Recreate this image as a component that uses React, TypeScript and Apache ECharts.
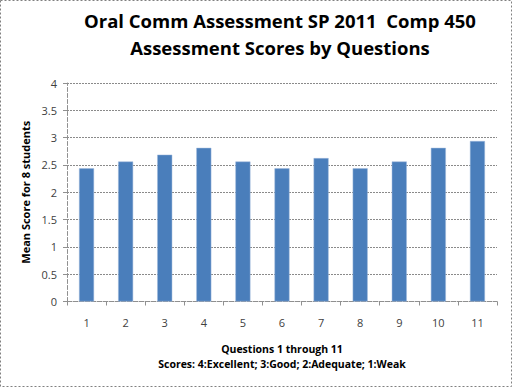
import React, { useEffect, useRef } from "react";
import * as echarts from "echarts";

const categories = ["1", "2", "3", "4", "5", "6", "7", "8", "9", "10", "11"];
const meanScores = [2.4375, 2.5625, 2.6875, 2.8125, 2.5625, 2.4375, 2.625, 2.4375, 2.5625, 2.8125, 2.9375];
const titleLines = ["Oral Comm Assessment SP 2011  Comp 450", "Assessment Scores by Questions"];
const xAxisTitle = ["Questions 1 through 11", "Scores: 4:Excellent; 3:Good; 2:Adequate; 1:Weak"];
const yAxisTitle = "Mean Score for 8 students";

const FONT = "'Open Sans', 'Noto Sans', sans-serif";

export default function App() {
  const ref = useRef<HTMLDivElement>(null);
  useEffect(() => {
    if (!ref.current) return;
    const chart = echarts.init(ref.current, null, { renderer: "svg" });
    chart.setOption({
      animation: false,
      backgroundColor: "#ffffff",
      title: {
        text: titleLines.join("\n"),
        left: 275,
        textAlign: "center",
        top: 2,
        textStyle: {
          fontFamily: FONT,
          fontWeight: "bold",
          fontSize: 18.5,
          lineHeight: 27,
          color: "#000000",
        },
      },
      grid: { left: 67, right: 15, top: 83, bottom: 85.5, containLabel: false },
      xAxis: {
        type: "category",
        data: categories,
        name: xAxisTitle.join("\n"),
        nameLocation: "middle",
        nameGap: 40,
        nameTextStyle: {
          fontFamily: FONT,
          fontWeight: "bold",
          fontSize: 10.5,
          lineHeight: 15,
          color: "#000000",
        },
        axisLine: { show: true, lineStyle: { color: "#909090", type: "dashed", width: 1 } },
        axisTick: { show: true, alignWithLabel: false, length: 4, lineStyle: { color: "#909090" } },
        axisLabel: { fontFamily: FONT, fontSize: 11, color: "#404040", margin: 15 },
        splitLine: { show: false },
      },
      yAxis: {
        type: "value",
        min: 0,
        max: 4,
        interval: 0.5,
        name: yAxisTitle,
        nameLocation: "middle",
        nameGap: 34,
        nameRotate: 90,
        nameTextStyle: {
          fontFamily: FONT,
          fontWeight: "bold",
          fontSize: 11,
          color: "#000000",
        },
        axisLine: { show: true, lineStyle: { color: "#909090", type: "dashed" } },
        axisTick: { show: true, length: 4, lineStyle: { color: "#909090" } },
        axisLabel: { fontFamily: FONT, fontSize: 11, color: "#404040", margin: 10 },
        splitLine: { show: true, lineStyle: { color: "#8a8a8a", type: [2, 1], width: 1 } },
      },
      series: [
        {
          type: "bar",
          data: meanScores,
          barWidth: 15,
          itemStyle: { color: "#4a7ebb", borderColor: "#9fb8dc", borderWidth: 0.5 },
        },
      ],
      graphic: [
        {
          type: "rect",
          shape: { x: 0.5, y: 0.5, width: 511, height: 386 },
          style: { fill: "none", stroke: "#808080", lineWidth: 1, lineDash: [2, 2] },
          silent: true,
        },
      ],
    });
    return () => chart.dispose();
  }, []);
  return (
    <div
      ref={ref}
      style={{ position: "fixed", left: 0, top: 0, width: 512, height: 387 }}
    />
  );
}
